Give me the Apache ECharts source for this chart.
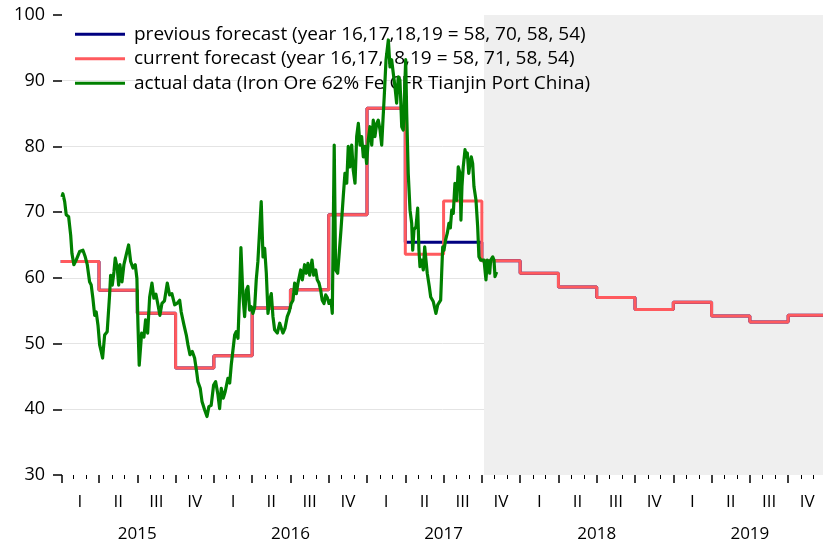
<!DOCTYPE html>
<html>
<head>
<meta charset="utf-8">
<title>Iron ore price forecast</title>
<script src="https://cdn.jsdelivr.net/npm/echarts@6/dist/echarts.min.js"></script>
<style>
  html, body { margin: 0; padding: 0; background: #fff; }
  #chart { width: 823px; height: 542px; }
</style>
</head>
<body>
<div id="chart"></div>
<script>
// Time is measured in months since 1 Jan 2015.
const quarterNames = ['I', 'II', 'III', 'IV'];
const yearNames = ['2015', '2016', '2017', '2018', '2019'];

// Quarterly forecasts, 2015 Q1 .. 2019 Q4
const currentForecast = [62.5, 58.1, 54.6, 46.3, 48.15, 55.4, 58.2, 69.6,
  85.8, 63.6, 71.7, 62.6, 60.7, 58.6, 57.0, 55.2, 56.3, 54.2, 53.3, 54.3];
const previousForecast = [62.5, 58.1, 54.6, 46.3, 48.15, 55.4, 58.2, 69.6,
  85.8, 65.4, 65.4, 62.6, 60.7, 58.6, 57.0, 55.2, 56.3, 54.2, 53.3, 54.3];

// Actual price: [month, USD/t]
const actualData = [
  [0.10,72.3],[0.17,72.8],[0.31,71.6],[0.43,69.6],[0.62,69.3],[0.78,66.5],[0.88,63.7],[1.03,62.0],[1.21,62.7],[1.48,64.0],
  [1.74,64.2],[1.92,63.2],[2.08,62.0],[2.26,59.4],[2.39,58.9],[2.52,56.9],[2.66,54.3],[2.78,54.8],[2.92,52.8],[3.05,49.8],
  [3.17,48.8],[3.28,47.8],[3.44,51.3],[3.64,51.8],[3.83,57.4],[3.91,60.4],[4.04,58.9],[4.17,60.9],[4.27,63.0],[4.43,61.5],
  [4.54,58.9],[4.64,62.0],[4.80,59.4],[4.95,62.0],[5.13,63.5],[5.32,65.0],[5.48,62.5],[5.66,61.5],[5.84,62.0],[5.97,59.9],
  [6.05,53.0],[6.15,46.7],[6.34,51.6],[6.52,51.0],[6.65,53.6],[6.81,51.6],[6.97,57.1],[7.15,59.2],[7.30,56.9],[7.46,57.5],
  [7.62,55.9],[7.77,54.3],[7.93,56.1],[8.13,56.5],[8.35,59.2],[8.53,57.4],[8.71,57.6],[8.93,55.9],[9.11,56.1],[9.32,56.6],
  [9.44,54.8],[9.66,52.8],[9.84,51.3],[9.97,49.8],[10.13,48.3],[10.31,48.8],[10.49,47.8],[10.65,45.7],[10.75,44.2],[10.93,43.2],
  [11.07,41.2],[11.28,39.9],[11.46,38.9],[11.61,40.4],[11.79,40.6],[11.98,43.7],[12.14,44.2],[12.32,42.2],[12.45,40.1],[12.58,43.2],
  [12.74,41.7],[12.89,42.7],[13.10,44.7],[13.24,44.0],[13.36,46.7],[13.50,46.4],[13.63,51.3],[13.75,51.8],[13.89,50.8],[14.02,57.9],
  [14.12,64.6],[14.28,57.1],[14.41,54.1],[14.54,58.1],[14.67,58.7],[14.80,55.1],[14.93,55.6],[15.06,54.6],[15.20,55.6],[15.32,59.7],
  [15.45,62.5],[15.59,62.2],[15.71,71.6],[15.85,63.2],[15.98,64.5],[16.11,60.7],[16.24,54.6],[16.37,56.6],[16.50,57.6],[16.63,54.1],
  [16.76,52.1],[16.97,51.6],[17.16,53.1],[17.28,53.3],[17.41,51.6],[17.57,52.3],[17.75,54.1],[17.91,54.9],[18.06,56.1],[18.20,56.6],
  [18.33,59.2],[18.46,57.6],[18.59,59.2],[18.80,61.2],[18.93,59.7],[19.11,62.0],[19.24,60.7],[19.37,62.2],[19.51,60.4],[19.69,62.7],
  [19.82,60.4],[19.98,61.2],[20.10,59.7],[20.24,59.2],[20.37,58.1],[20.49,56.6],[20.63,56.1],[20.76,57.4],[20.89,57.0],[21.02,56.1],
  [21.18,56.6],[21.28,54.6],[21.43,80.2],[21.54,61.2],[21.70,60.7],[21.80,63.2],[21.96,67.3],[22.14,72.4],[22.27,75.9],[22.41,74.4],
  [22.53,80.0],[22.66,76.9],[22.80,80.2],[22.92,76.4],[23.06,74.4],[23.19,81.5],[23.32,83.5],[23.45,80.2],[23.58,81.5],[23.71,78.4],
  [23.84,80.0],[23.97,77.4],[24.10,81.0],[24.23,83.0],[24.37,80.2],[24.49,84.0],[24.62,81.5],[24.76,83.5],[24.88,84.0],[25.02,82.5],
  [25.15,80.2],[25.25,84.0],[25.35,87.6],[25.49,93.2],[25.67,96.2],[25.80,92.1],[25.93,93.2],[26.06,91.1],[26.19,89.1],[26.32,86.6],
  [26.45,90.6],[26.58,90.1],[26.72,83.0],[26.84,82.5],[27.03,93.2],[27.11,85.0],[27.23,75.9],[27.37,70.3],[27.50,68.3],[27.58,64.2],
  [27.68,67.3],[27.84,67.8],[27.97,70.6],[28.07,64.2],[28.15,61.7],[28.28,62.7],[28.41,61.2],[28.52,64.7],[28.62,62.7],[28.72,60.7],
  [28.88,58.7],[28.99,57.1],[29.09,57.4],[29.19,56.4],[29.30,56.1],[29.40,54.6],[29.54,55.9],[29.64,56.1],[29.77,56.6],[29.85,60.7],
  [29.93,64.7],[30.03,64.2],[30.16,65.8],[30.29,66.8],[30.42,68.3],[30.53,67.6],[30.64,70.3],[30.76,69.8],[30.89,74.4],[31.03,71.8],
  [31.15,76.9],[31.29,75.9],[31.36,68.8],[31.44,73.9],[31.54,76.9],[31.68,79.5],[31.78,78.4],[31.86,79.0],[31.97,75.9],[32.07,77.4],
  [32.17,78.4],[32.28,77.4],[32.38,73.9],[32.54,71.8],[32.67,67.8],[32.77,63.2],[32.91,62.7],[33.03,62.5],[33.17,62.7],[33.32,59.7],
  [33.43,62.7],[33.52,62.4],[33.61,60.7],[33.69,62.7],[33.85,63.2],[33.95,62.7],[34.03,60.2],[34.16,60.9]
];

// Forecast horizon (shaded) starts early October 2017
const forecastStart = 33.17;

const X_MIN = 0.1;
const X_MAX = 59.73;

function quarterSteps(values) {
  const pts = [];
  values.forEach((v, q) => { pts.push([q * 3, v]); pts.push([q * 3 + 3, v]); });
  return pts;
}

const monthTicks = [];
for (let m = 1; m < 60; m++) if (m % 3 !== 0) monthTicks.push(m);
const quarterTicks = [X_MIN];
for (let m = 3; m < 60; m += 3) quarterTicks.push(m);
const quarterMids = [];
for (let q = 0; q < 20; q++) quarterMids.push(q * 3 + 1.5);
const yearMids = yearNames.map((_, i) => i * 12 + 6);

const FONT = '"Open Sans", "Noto Sans", sans-serif';

const baseX = {
  type: 'value', min: X_MIN, max: X_MAX, position: 'bottom', gridIndex: 0,
  axisLine: { show: false, onZero: false },
  splitLine: { show: false }
};

const chart = echarts.init(document.getElementById('chart'), null, { renderer: 'canvas' });
chart.setOption({
  animation: false,
  backgroundColor: '#ffffff',
  textStyle: { fontFamily: FONT },
  grid: { left: 62, right: 0, top: 15, bottom: 67, outerBoundsMode: 'none' },
  legend: {
    orient: 'vertical', left: 70, top: 18,
    icon: 'rect', itemWidth: 50, itemHeight: 3, itemGap: 2,
    data: ['previous forecast (year 16,17,18,19 = 58, 70, 58, 54)',
           'current forecast (year 16,17,18,19 = 58, 71, 58, 54)',
           'actual data (Iron Ore 62% Fe CFR Tianjin Port China)'],
    textStyle: { fontFamily: FONT, fontSize: 19, color: '#000', lineHeight: 22.5, padding: [0, 0, 0, 4] },
    selectedMode: false
  },
  xAxis: [
    Object.assign({}, baseX, {
      axisTick: { show: true, customValues: monthTicks, length: 4, lineStyle: { color: '#000', width: 1 } },
      axisLabel: { show: false }
    }),
    Object.assign({}, baseX, {
      axisTick: { show: true, customValues: quarterTicks, length: 8, lineStyle: { color: '#000', width: 1.5 } },
      axisLabel: {
        show: true, customValues: quarterMids, margin: 19,
        fontFamily: FONT, fontSize: 17, color: '#000',
        formatter: v => quarterNames[Math.floor(v / 3) % 4]
      }
    }),
    Object.assign({}, baseX, {
      axisTick: { show: false },
      axisLabel: {
        show: true, customValues: yearMids, margin: 51,
        fontFamily: FONT, fontSize: 17, color: '#000',
        formatter: v => yearNames[Math.floor(v / 12)]
      }
    })
  ],
  yAxis: {
    type: 'value', min: 30, max: 100, interval: 10,
    axisLine: { show: false },
    axisTick: { show: true, length: 9, lineStyle: { color: '#000', width: 1.5 } },
    axisLabel: { margin: 17, fontFamily: FONT, fontSize: 18, color: '#000' },
    splitLine: { show: true, showMinLine: false, showMaxLine: false, lineStyle: { color: '#e4e4e4', width: 1 } }
  },
  series: [
    {
      // background shading for the forecast horizon, kept under the grid lines
      name: 'horizon', type: 'line', data: [], z: -1, silent: true,
      markArea: {
        silent: true,
        itemStyle: { color: '#efefef' },
        data: [[{ xAxis: forecastStart }, { xAxis: X_MAX }]]
      }
    },
    {
      name: 'previous forecast (year 16,17,18,19 = 58, 70, 58, 54)',
      type: 'line', data: quarterSteps(previousForecast), showSymbol: false,
      color: '#000080', lineStyle: { color: '#000080', width: 3 }, clip: true, z: 3
    },
    {
      name: 'current forecast (year 16,17,18,19 = 58, 71, 58, 54)',
      type: 'line', data: quarterSteps(currentForecast), showSymbol: false,
      color: '#ff5a5e', lineStyle: { color: '#ff5a5e', width: 3 }, clip: true, z: 4
    },
    {
      name: 'actual data (Iron Ore 62% Fe CFR Tianjin Port China)',
      type: 'line', data: actualData, showSymbol: false,
      color: '#008000', lineStyle: { color: '#008000', width: 3.2, join: 'round' }, clip: true, z: 5
    }
  ]
});
</script>
</body>
</html>
